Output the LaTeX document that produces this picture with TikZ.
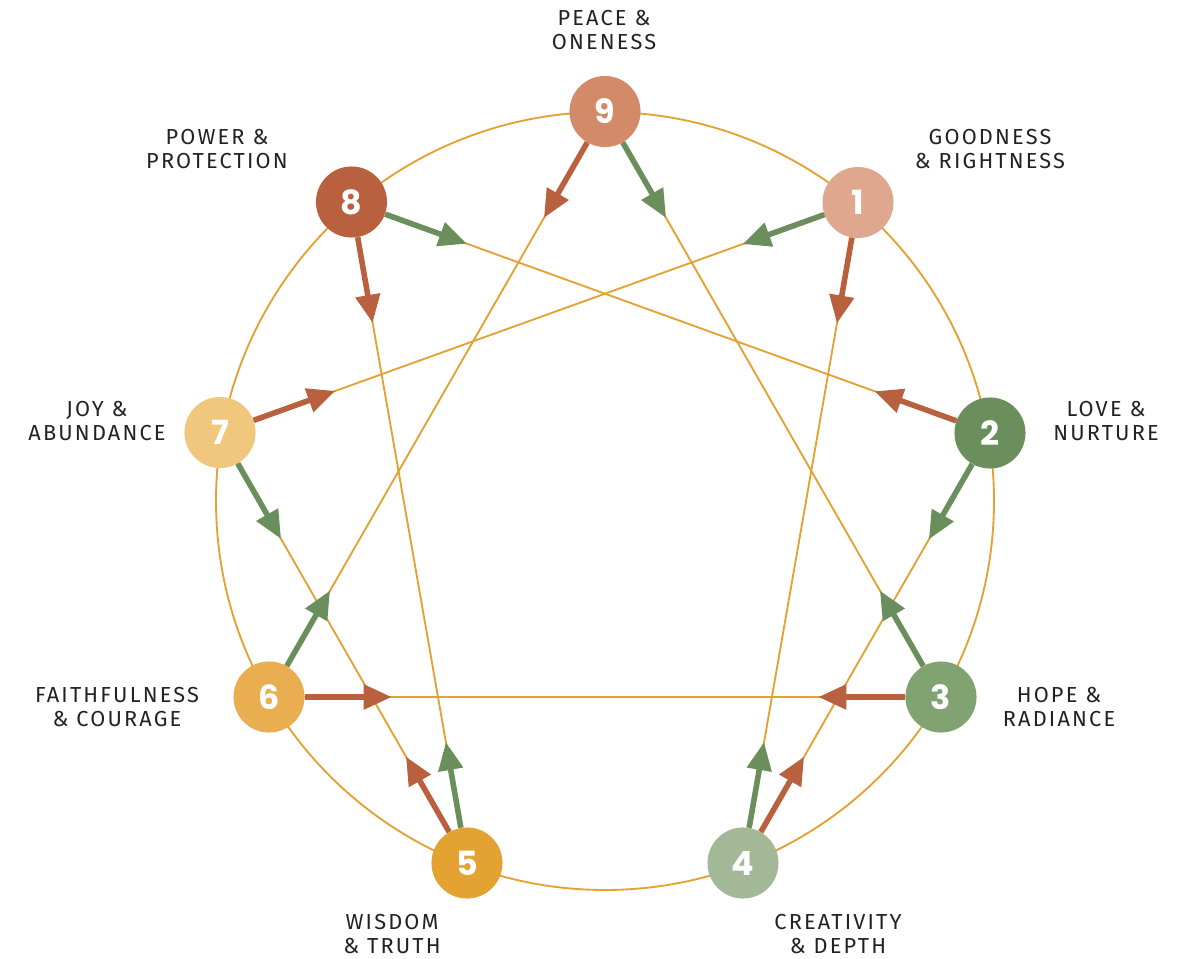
\documentclass[tikz,border=0pt]{standalone}
\usepackage{fontspec}
\setmainfont{Fira Sans}[LetterSpace=10]
\newfontfamily\numfont{Poppins}
\usetikzlibrary{arrows.meta,calc}
\definecolor{ochre}{HTML}{E3A232}
\definecolor{ink}{HTML}{222222}
\definecolor{rust}{HTML}{B9613F}
\definecolor{fern}{HTML}{6A8F5C}
\definecolor{cnine}{HTML}{D38A69}
\definecolor{cone}{HTML}{DEA78E}
\definecolor{cthree}{HTML}{81A372}
\definecolor{cfour}{HTML}{A3B896}
\definecolor{csix}{HTML}{E9AE4F}
\definecolor{cseven}{HTML}{F0C77D}

\begin{document}
\begin{tikzpicture}[x=0.75pt,y=-0.75pt,line cap=round,line join=round,
  dot/.style={circle,minimum size=53.3pt,inner sep=0pt,text=white,
    font=\numfont\bfseries\fontsize{25}{25}\selectfont},
  lbl/.style={align=center,text=ink,inner sep=0pt,font=\fontsize{16.3}{17.5}\selectfont},
  chord/.style={ochre,line width=1.4pt},
  fernarrow/.style={fern,line width=4.2pt,line cap=butt,-{Triangle[length=21pt,width=18pt]}},
  rustarrow/.style={rust,line width=4.2pt,line cap=butt,-{Triangle[length=21pt,width=18pt]}}]
\useasboundingbox (0,0) rectangle (1185,959);
% outer ring
\draw[chord] (605,501) circle[radius=389];
% the nine points
\node[dot,fill=cnine]  (n9) at (605,111.5) {9};
\node[dot,fill=cone]   (n1) at (858,202.5) {1};
\node[dot,fill=fern]   (n2) at (990,433)   {2};
\node[dot,fill=cthree] (n3) at (941,697)   {3};
\node[dot,fill=cfour]  (n4) at (743,863)   {4};
\node[dot,fill=ochre]  (n5) at (467,863)   {5};
\node[dot,fill=csix]   (n6) at (269,697)   {6};
\node[dot,fill=cseven] (n7) at (220,432.5) {7};
\node[dot,fill=rust]   (n8) at (351.5,202) {8};
% labels
\node[lbl] (l9) at (604,30)   {PEACE \&\\ONENESS};
\node[lbl] (l1) at (990,149)  {GOODNESS\\\& RIGHTNESS};
\node[lbl] (l2) at (1106,421) {LOVE \&\\NURTURE};
\node[lbl] (l3) at (1059,707) {HOPE \&\\RADIANCE};
\node[lbl] (l4) at (838,934)  {CREATIVITY\\\& DEPTH};
\node[lbl] (l5) at (392,934)  {WISDOM\\\& TRUTH};
\node[lbl] (l6) at (117,707)  {FAITHFULNESS\\\& COURAGE};
\node[lbl] (l7) at (97,421)   {JOY \&\\ABUNDANCE};
\node[lbl] (l8) at (217,149)  {POWER \&\\PROTECTION};
% inner lines
\foreach \a/\b in {9/3,3/6,6/9,1/4,4/2,2/8,8/5,5/7,7/1}
  \draw[chord] (n\a) -- (n\b);
% arrows
\foreach \a/\b in {9/3,8/2,1/7,2/4,3/9,4/1,5/8,6/9,7/5}
  \draw[fernarrow] (n\a) -- ($(n\a)!92pt!(n\b)$);
\foreach \a/\b in {9/6,8/5,1/4,2/8,3/6,4/2,5/7,6/3,7/1}
  \draw[rustarrow] (n\a) -- ($(n\a)!92pt!(n\b)$);
\end{tikzpicture}
\end{document}
